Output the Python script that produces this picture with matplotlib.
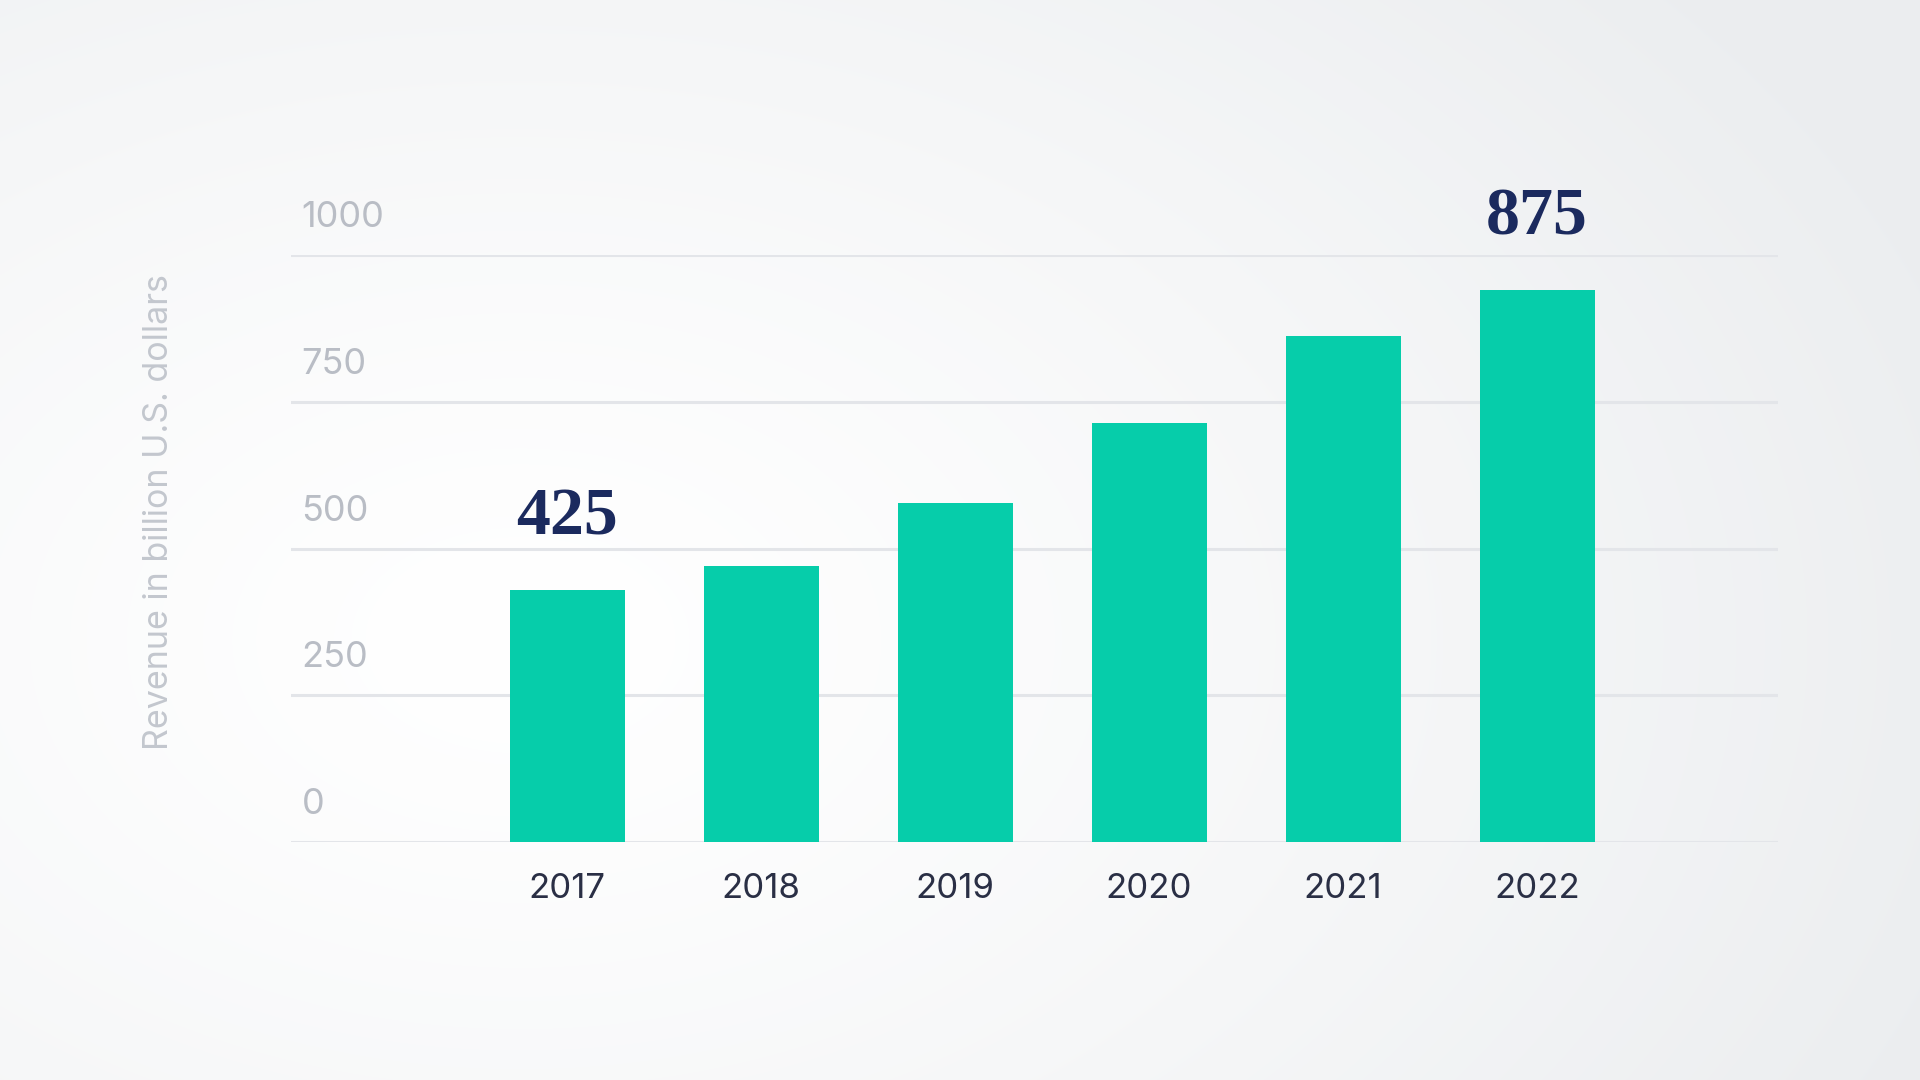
import numpy as np
import matplotlib
matplotlib.use('Agg')
import matplotlib.pyplot as plt

# data
years = ['2017', '2018', '2019', '2020', '2021', '2022']
revenue = [430, 470, 578, 714, 862, 940]
y_ticks = [0, 250, 500, 750, 1000]
callout_idx = [0, 5]
callout_text = ['425', '875']

bar_color = '#06cdaa'
grid_color = '#e3e5e9'
tick_grey = '#b9bdc5'
year_color = '#2a2f45'
navy = '#1b2a5e'

fig = plt.figure(figsize=(19.2, 10.8), dpi=100)

# soft radial background
bg = fig.add_axes([0, 0, 1, 1])
yy, xx = np.mgrid[0:1080, 0:1920]
d = np.sqrt(((xx - 520) / 1500.0) ** 2 + ((yy - 640) / 1000.0) ** 2)
d = np.clip(d, 0, 1)
edge = np.array([0.925, 0.933, 0.941])
img = 1 - (1 - edge)[None, None, :] * (d[:, :, None] ** 1.3)
bg.imshow(img, aspect='auto', extent=[0, 1, 0, 1])
bg.axis('off')

ax = fig.add_axes([291 / 1920, 1 - 842 / 1080, (1778 - 291) / 1920, (842 - 255) / 1080])
ax.patch.set_alpha(0)
x = np.arange(len(years))
ax.bar(x, revenue, width=0.593, color=bar_color, zorder=3)

ax.set_xlim(-1.423, 6.242)
ax.set_ylim(0, 1000)
for s in ax.spines.values():
    s.set_visible(False)

for v in y_ticks:
    ax.axhline(v, color=grid_color, lw=2.2, zorder=1)
    ax.annotate(str(v), xy=(0.007, v), xycoords=('axes fraction', 'data'),
                xytext=(0, 20), textcoords='offset points', ha='left', va='baseline',
                fontsize=26, color=tick_grey, family=['Inter', 'DejaVu Sans'])
ax.set_yticks([])

ax.set_xticks(x)
ax.set_xticklabels(years, fontsize=25, color=year_color, family=['Inter', 'DejaVu Sans'])
ax.tick_params(axis='x', length=0, pad=22)

for i, t in zip(callout_idx, callout_text):
    ax.annotate(t, xy=(x[i], revenue[i]), xytext=(0, 40), textcoords='offset points',
                ha='center', va='baseline', fontsize=49, fontweight='bold',
                color=navy, family=['Liberation Serif', 'DejaVu Serif'])

fig.text(159 / 1920, 1 - 512 / 1080, 'Revenue in billion U.S. dollars', rotation=90,
         ha='center', va='center', fontsize=24.5, color='#c3c7ce',
         family=['Inter', 'DejaVu Sans'])

fig.savefig('out.png', dpi=100)
